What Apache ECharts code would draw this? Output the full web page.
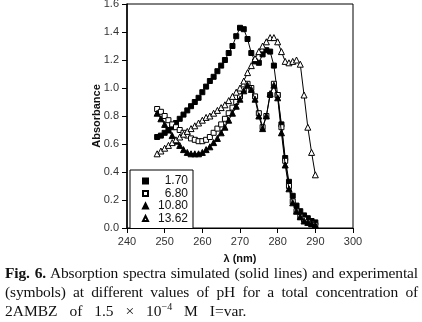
<!DOCTYPE html>
<html>
<head>
<meta charset="utf-8">
<script src="https://cdn.jsdelivr.net/npm/echarts@6/dist/echarts.min.js"></script>
<style>
  html, body { margin: 0; padding: 0; background: #fff; }
  #chart { position: absolute; left: 0; top: 0; width: 422px; height: 322px; }
  #caption { position: absolute; left: 5px; top: 263px; width: 413px;
    font-family: "Liberation Serif", "Times New Roman", serif; font-size: 15.5px; line-height: 19px; color: #111; }
  #caption div { white-space: nowrap; }
  #caption .j { text-align: justify; text-align-last: justify; letter-spacing: -0.15px; }
  #caption .l3 { word-spacing: 8px; }
  sup { font-size: 10px; line-height: 0; }
</style>
</head>
<body>
<div id="chart"></div>
<div id="caption">
  <div class="j"><b>Fig. 6.</b> Absorption spectra simulated (solid lines) and experimental</div>
  <div class="j">(symbols) at different values of pH for a total concentration of</div>
  <div class="l3">2AMBZ of 1.5 × 10<sup>−4</sup> M I=var.</div>
</div>
<script>
const wavelengths = [248,249,250,251,252,253,254,255,256,257,258,259,260,261,262,263,264,265,266,267,268,269,270,271,272,273,274,275,276,277,278,279,280,281,282,283,284,285,286,287,288,289,290];
const seriesNames = ['1.70', '6.80', '10.80', '13.62'];
const ph170 = [0.65,0.66,0.68,0.70,0.72,0.75,0.78,0.81,0.84,0.87,0.90,0.93,0.97,1.01,1.05,1.08,1.12,1.16,1.20,1.25,1.30,1.37,1.43,1.42,1.35,1.25,1.19,1.18,1.24,1.27,1.26,1.16,0.95,0.74,0.50,0.33,0.23,0.16,0.12,0.09,0.07,0.05,0.04];
const ph680 = [0.85,0.83,0.80,0.77,0.74,0.72,0.70,0.68,0.66,0.64,0.63,0.62,0.62,0.63,0.65,0.68,0.71,0.74,0.78,0.82,0.86,0.90,0.94,0.99,1.03,1.00,0.94,0.82,0.72,0.80,0.95,1.03,0.95,0.72,0.48,0.30,0.19,0.12,0.08,0.06,0.04,0.03,0.02];
const ph1080 = [0.82,0.78,0.74,0.70,0.66,0.62,0.59,0.56,0.54,0.53,0.53,0.53,0.54,0.56,0.58,0.61,0.64,0.68,0.72,0.77,0.82,0.87,0.92,0.98,1.02,0.99,0.92,0.80,0.71,0.80,0.96,1.02,0.93,0.68,0.45,0.28,0.18,0.12,0.08,0.05,0.04,0.03,0.02];
const ph1362 = [0.53,0.55,0.57,0.59,0.61,0.63,0.65,0.67,0.69,0.71,0.73,0.75,0.77,0.79,0.80,0.82,0.84,0.86,0.88,0.91,0.94,0.97,1.00,1.05,1.11,1.16,1.21,1.26,1.30,1.33,1.36,1.36,1.33,1.26,1.19,1.18,1.19,1.20,1.17,0.95,0.72,0.54,0.38];
const xTicks = [240, 300, 10];
const yTicks = [0, 1.6, 0.2];

const values = [ph170, ph680, ph1080, ph1362];
const symbols = ['rect', 'rect', 'triangle', 'triangle'];
const fills = ['#000', '#fff', '#000', '#fff'];
const sizes = [5, 5, 6, 6];

const chart = echarts.init(document.getElementById('chart'));
const font = 'Arial, "Liberation Sans", sans-serif';
chart.setOption({
  animation: false,
  backgroundColor: 'transparent',
  grid: { left: 127, right: 69, top: 4, bottom: 94, show: true, borderColor: '#000', borderWidth: 1,
          containLabel: false, outerBoundsMode: 'none' },
  xAxis: {
    type: 'value', min: xTicks[0], max: xTicks[1], interval: xTicks[2],
    name: 'λ (nm)', nameLocation: 'middle', nameGap: 25, nameMoveOverlap: false,
    nameTextStyle: { fontFamily: font, fontSize: 11, fontWeight: 'bold', color: '#111' },
    axisLine: { lineStyle: { color: '#000', width: 1 } },
    axisTick: { length: 5, lineStyle: { color: '#000' } },
    axisLabel: { fontFamily: font, fontSize: 11, color: '#333', margin: 8 },
    splitLine: { show: false }
  },
  yAxis: {
    type: 'value', min: yTicks[0], max: yTicks[1], interval: yTicks[2],
    name: 'Absorbance', nameLocation: 'middle', nameGap: 25, nameRotate: 90, nameMoveOverlap: false,
    nameTextStyle: { fontFamily: font, fontSize: 11, fontWeight: 'bold', color: '#111' },
    axisLine: { lineStyle: { color: '#000', width: 1.5 } },
    axisTick: { length: 5, lineStyle: { color: '#000' } },
    axisLabel: { fontFamily: font, fontSize: 11, color: '#333', margin: 8, formatter: v => v.toFixed(1) },
    splitLine: { show: false }
  },
  legend: {
    orient: 'vertical', left: 130, top: 170,
    backgroundColor: '#fff', borderColor: '#000', borderWidth: 1,
    padding: [5, 5, 4, 12], itemGap: 0.5, itemWidth: 5, itemHeight: 5, itemTextGap: 5,
    formatter: '{a|{name}}',
    textStyle: { fontFamily: font, fontSize: 12, lineHeight: 12, color: '#111',
      rich: { a: { fontFamily: font, fontSize: 12, lineHeight: 12, color: '#111', width: 35, align: 'right' } } },
    data: seriesNames.map((n, i) => ({ name: n, icon: symbols[i] }))
  },
  series: seriesNames.map((n, i) => ({
    name: n, type: 'line', z: 2 + i,
    data: wavelengths.map((w, k) => [w, values[i][k]]),
    symbol: symbols[i], symbolSize: sizes[i], showAllSymbol: true,
    lineStyle: { color: '#000', width: 1 },
    itemStyle: { color: fills[i], borderColor: '#000', borderWidth: 1 }
  }))
});
</script>
</body>
</html>
